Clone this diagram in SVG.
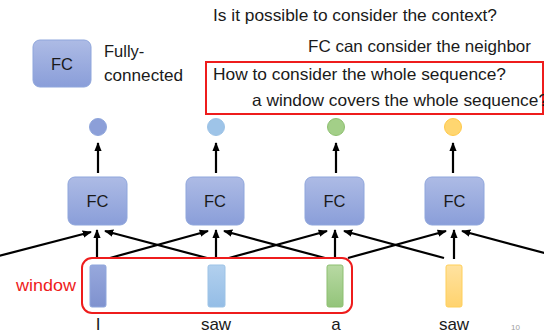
<svg xmlns="http://www.w3.org/2000/svg" width="544" height="333" viewBox="0 0 544 333">
  <style>
    text { font-family: "Liberation Sans", Arial, sans-serif; fill: #1a1a1a; }
    .q { font-size: 16.5px; }
    .fc { font-size: 16.5px; text-anchor: middle; }
    .lbl { font-size: 17px; text-anchor: middle; }
    .red { fill: none; stroke: #ee1c1c; stroke-width: 2; }
    .fcbox { fill: url(#gFC); stroke: #8fa6dc; stroke-width: 1; }
    .conn line { stroke: #000; stroke-width: 2.2; marker-end: url(#arr); }
  </style>
  <defs>
    <linearGradient id="gFC" x1="0" y1="0" x2="0" y2="1">
      <stop offset="0" stop-color="#adbbe5"/>
      <stop offset="1" stop-color="#8a9ed9"/>
    </linearGradient>
    <linearGradient id="gIn1" x1="0" y1="0" x2="0" y2="1">
      <stop offset="0" stop-color="#97a8dc"/>
      <stop offset="1" stop-color="#7f92cf"/>
    </linearGradient>
    <linearGradient id="gIn2" x1="0" y1="0" x2="0" y2="1">
      <stop offset="0" stop-color="#b2d0ee"/>
      <stop offset="1" stop-color="#94bde6"/>
    </linearGradient>
    <linearGradient id="gIn3" x1="0" y1="0" x2="0" y2="1">
      <stop offset="0" stop-color="#b8d9a3"/>
      <stop offset="1" stop-color="#93c47a"/>
    </linearGradient>
    <linearGradient id="gIn4" x1="0" y1="0" x2="0" y2="1">
      <stop offset="0" stop-color="#ffe2a0"/>
      <stop offset="1" stop-color="#ffd36e"/>
    </linearGradient>
    <marker id="arr" viewBox="0 0 10 8" refX="9" refY="4" markerWidth="4.2" markerHeight="3.4" orient="auto">
      <path d="M0,0 L10,4 L0,8 z" fill="#000"/>
    </marker>
  </defs>

  <!-- questions -->
  <text class="q" x="213" y="21" textLength="284" lengthAdjust="spacingAndGlyphs">Is it possible to consider the context?</text>
  <text class="q" x="308" y="52" textLength="223" lengthAdjust="spacingAndGlyphs">FC can consider the neighbor</text>
  <rect class="red" x="206" y="62" width="337" height="52"/>
  <text class="q" x="213" y="80" textLength="293" lengthAdjust="spacingAndGlyphs">How to consider the whole sequence?</text>
  <text class="q" x="252" y="106" textLength="296" lengthAdjust="spacingAndGlyphs">a window covers the whole sequence?</text>

  <!-- legend -->
  <g id="legend">
    <rect class="fcbox" x="33" y="40" width="58" height="47" rx="7"/>
    <text class="fc" x="62" y="69.5">FC</text>
    <text class="q" x="104" y="57">Fully-</text>
    <text class="q" x="104" y="81" textLength="79" lengthAdjust="spacingAndGlyphs">connected</text>
  </g>

  <!-- output nodes -->
  <g id="out1"><circle cx="98" cy="127" r="8.5" fill="#8c9fd8" stroke="#8fa6dc"/></g>
  <g id="out2"><circle cx="216" cy="127" r="8.5" fill="#9ec4e8" stroke="#9dc3e6"/></g>
  <g id="out3"><circle cx="336" cy="127" r="8.5" fill="#a3cf88" stroke="#8dbf70"/></g>
  <g id="out4"><circle cx="453" cy="127" r="8.5" fill="#ffd670" stroke="#ffc94a"/></g>

  <!-- FC layers -->
  <g id="fc1"><rect class="fcbox" x="68" y="177" width="59" height="48" rx="7"/><text class="fc" x="97.5" y="207">FC</text></g>
  <g id="fc2"><rect class="fcbox" x="186" y="177" width="58" height="48" rx="7"/><text class="fc" x="215" y="207">FC</text></g>
  <g id="fc3"><rect class="fcbox" x="305" y="177" width="59" height="48" rx="7"/><text class="fc" x="334.5" y="207">FC</text></g>
  <g id="fc4"><rect class="fcbox" x="425" y="177" width="59" height="48" rx="7"/><text class="fc" x="454.5" y="207">FC</text></g>

  <!-- input vectors -->
  <g id="in1"><rect x="90" y="265" width="16" height="42" rx="2" fill="url(#gIn1)" stroke="#8fa6dc"/><text class="lbl" x="98" y="330">I</text></g>
  <g id="in2"><rect x="208" y="265" width="17" height="42" rx="2" fill="url(#gIn2)" stroke="#9dc3e6"/><text class="lbl" x="216" y="330">saw</text></g>
  <g id="in3"><rect x="327" y="265" width="16" height="42" rx="2" fill="url(#gIn3)" stroke="#8dbf70"/><text class="lbl" x="336" y="330">a</text></g>
  <g id="in4"><rect x="446" y="265" width="16" height="42" rx="2" fill="url(#gIn4)" stroke="#ffcf5a"/><text class="lbl" x="454" y="330">saw</text></g>

  <!-- connectors -->
  <g class="conn" id="connectors">
    <!-- FC to output -->
    <line x1="98" y1="173" x2="98" y2="143"/>
    <line x1="216" y1="173" x2="216" y2="143"/>
    <line x1="336" y1="173" x2="336" y2="143"/>
    <line x1="453" y1="173" x2="453" y2="143"/>
    <!-- inputs straight up -->
    <line x1="97" y1="259" x2="97" y2="230"/>
    <line x1="216" y1="259" x2="216" y2="230"/>
    <line x1="335" y1="259" x2="335" y2="230"/>
    <line x1="454" y1="259" x2="454" y2="230"/>
    <!-- inputs to right neighbour -->
    <line x1="-9" y1="258" x2="91" y2="232"/>
    <line x1="110" y1="258" x2="208" y2="231"/>
    <line x1="229" y1="258" x2="327" y2="231"/>
    <line x1="348" y1="258" x2="446" y2="231"/>
    <!-- inputs to left neighbour -->
    <line x1="207" y1="258" x2="105" y2="231"/>
    <line x1="325" y1="258" x2="224" y2="231"/>
    <line x1="444" y1="258" x2="344" y2="231"/>
    <line x1="563" y1="258" x2="462" y2="231"/>
  </g>

  <!-- window -->
  <rect class="red" x="82" y="258" width="270" height="55" rx="10"/>
  <text x="16" y="291" style="font-size:17px; fill:#ee1c1c" textLength="60" lengthAdjust="spacingAndGlyphs">window</text>

  <text x="511" y="330" style="font-size:8px; fill:#a0a0a0">10</text>
</svg>
